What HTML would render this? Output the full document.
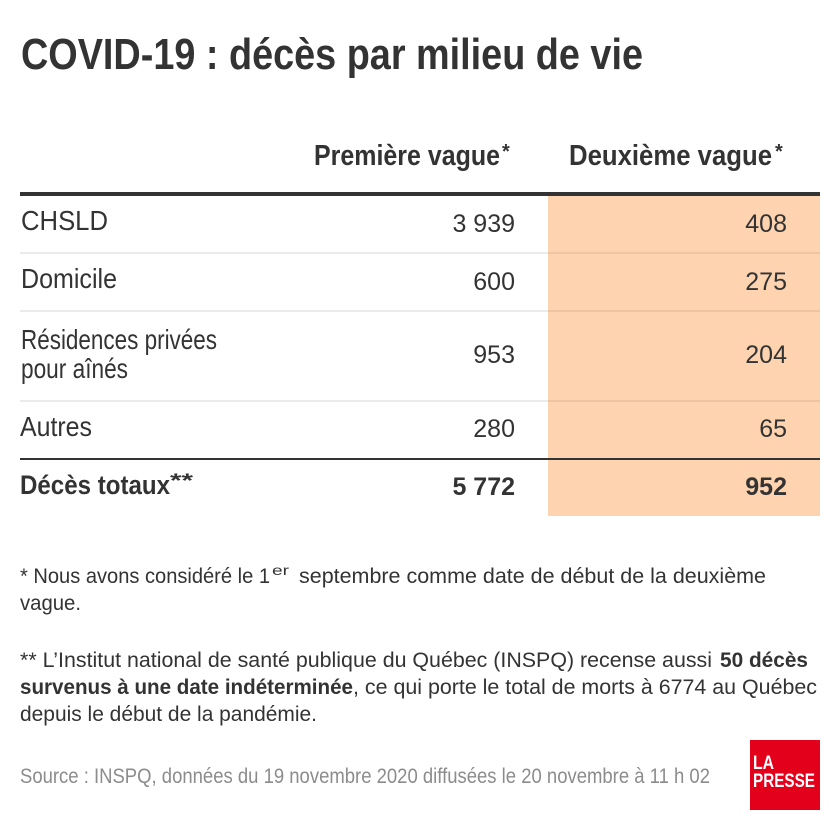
<!DOCTYPE html>
<html>
<head>
<meta charset="utf-8">
<style>
  html, body { margin: 0; padding: 0; background: #ffffff; }
  svg { display: block; }
  text { font-family: "Liberation Sans", "DejaVu Sans", sans-serif; fill: #333333; }
  .b { font-weight: bold; }
</style>
</head>
<body>
<svg width="840" height="832" viewBox="0 0 840 832" xmlns="http://www.w3.org/2000/svg">
  <rect x="0" y="0" width="840" height="832" fill="#ffffff"/>

  <!-- Title -->
  <text class="b" x="21" y="69" font-size="44" textLength="622" lengthAdjust="spacingAndGlyphs">COVID-19 : décès par milieu de vie</text>

  <!-- Header -->
  <text class="b" x="314" y="165" font-size="29" textLength="186" lengthAdjust="spacingAndGlyphs">Première vague</text>
  <text class="b" x="502" y="158" font-size="20">*</text>
  <text class="b" x="569" y="165" font-size="29" textLength="203" lengthAdjust="spacingAndGlyphs">Deuxième vague</text>
  <text class="b" x="775" y="158" font-size="20">*</text>

  <!-- Orange column -->
  <rect x="548" y="196" width="272" height="320" fill="#fdd3b0"/>

  <!-- Thick top line -->
  <rect x="20" y="192" width="800" height="4" fill="#333333"/>

  <!-- Row separators -->
  <rect x="20" y="252" width="528" height="2" fill="#ebebeb"/>
  <rect x="548" y="252" width="272" height="2" fill="#efc4a2"/>
  <rect x="20" y="310" width="528" height="2" fill="#ebebeb"/>
  <rect x="548" y="310" width="272" height="2" fill="#efc4a2"/>
  <rect x="20" y="400" width="528" height="2" fill="#ebebeb"/>
  <rect x="548" y="400" width="272" height="2" fill="#efc4a2"/>

  <!-- Totals line -->
  <rect x="20" y="458" width="800" height="2" fill="#333333"/>

  <!-- Rows -->
  <text x="21" y="230" font-size="28" textLength="87" lengthAdjust="spacingAndGlyphs">CHSLD</text>
  <text x="515" y="232" font-size="25" text-anchor="end">3 939</text>
  <text x="787" y="232" font-size="25" text-anchor="end">408</text>

  <text x="21" y="288" font-size="28" textLength="96" lengthAdjust="spacingAndGlyphs">Domicile</text>
  <text x="515" y="290" font-size="25" text-anchor="end">600</text>
  <text x="787" y="290" font-size="25" text-anchor="end">275</text>

  <text x="21" y="349" font-size="28" textLength="196" lengthAdjust="spacingAndGlyphs">Résidences privées</text>
  <text x="21" y="378" font-size="28" textLength="107" lengthAdjust="spacingAndGlyphs">pour aînés</text>
  <text x="515" y="363" font-size="25" text-anchor="end">953</text>
  <text x="787" y="363" font-size="25" text-anchor="end">204</text>

  <text x="20" y="436" font-size="28" textLength="72" lengthAdjust="spacingAndGlyphs">Autres</text>
  <text x="515" y="437" font-size="25" text-anchor="end">280</text>
  <text x="787" y="437" font-size="25" text-anchor="end">65</text>

  <text class="b" x="20" y="494" font-size="27" textLength="150" lengthAdjust="spacingAndGlyphs">Décès totaux</text>
  <text class="b" x="170" y="487" font-size="19" textLength="23" lengthAdjust="spacingAndGlyphs">**</text>
  <text class="b" x="515" y="495" font-size="25" text-anchor="end">5 772</text>
  <text class="b" x="787" y="495" font-size="25" text-anchor="end">952</text>

  <!-- Footnote 1 -->
  <text x="20" y="583" font-size="21" textLength="250" lengthAdjust="spacingAndGlyphs">* Nous avons considéré le 1</text>
  <text x="272" y="575" font-size="14" textLength="17" lengthAdjust="spacingAndGlyphs">er</text>
  <text x="299" y="583" font-size="21" textLength="467" lengthAdjust="spacingAndGlyphs">septembre comme date de début de la deuxième</text>
  <text x="20" y="610" font-size="21" textLength="61" lengthAdjust="spacingAndGlyphs">vague.</text>

  <!-- Footnote 2 -->
  <text x="20" y="667" font-size="21" textLength="692" lengthAdjust="spacingAndGlyphs">** L’Institut national de santé publique du Québec (INSPQ) recense aussi</text>
  <text class="b" x="720" y="667" font-size="21" textLength="88" lengthAdjust="spacingAndGlyphs">50 décès</text>
  <text class="b" x="20" y="694" font-size="21" textLength="333" lengthAdjust="spacingAndGlyphs">survenus à une date indéterminée</text>
  <text x="353" y="694" font-size="21" textLength="464" lengthAdjust="spacingAndGlyphs">, ce qui porte le total de morts à 6774 au Québec</text>
  <text x="20" y="721" font-size="21" textLength="297" lengthAdjust="spacingAndGlyphs">depuis le début de la pandémie.</text>

  <!-- Source -->
  <text x="20" y="783" font-size="21" style="fill:#8c8c8c" textLength="690" lengthAdjust="spacingAndGlyphs">Source : INSPQ, données du 19 novembre 2020 diffusées le 20 novembre à 11 h 02</text>

  <!-- Logo -->
  <rect x="750" y="740" width="70" height="70" fill="#e2001a"/>
  <text class="b" x="753" y="769" font-size="19" style="fill:#ffffff" textLength="21" lengthAdjust="spacingAndGlyphs">LA</text>
  <text class="b" x="753" y="787" font-size="19" style="fill:#ffffff" textLength="62" lengthAdjust="spacingAndGlyphs">PRESSE</text>
</svg>
</body>
</html>
